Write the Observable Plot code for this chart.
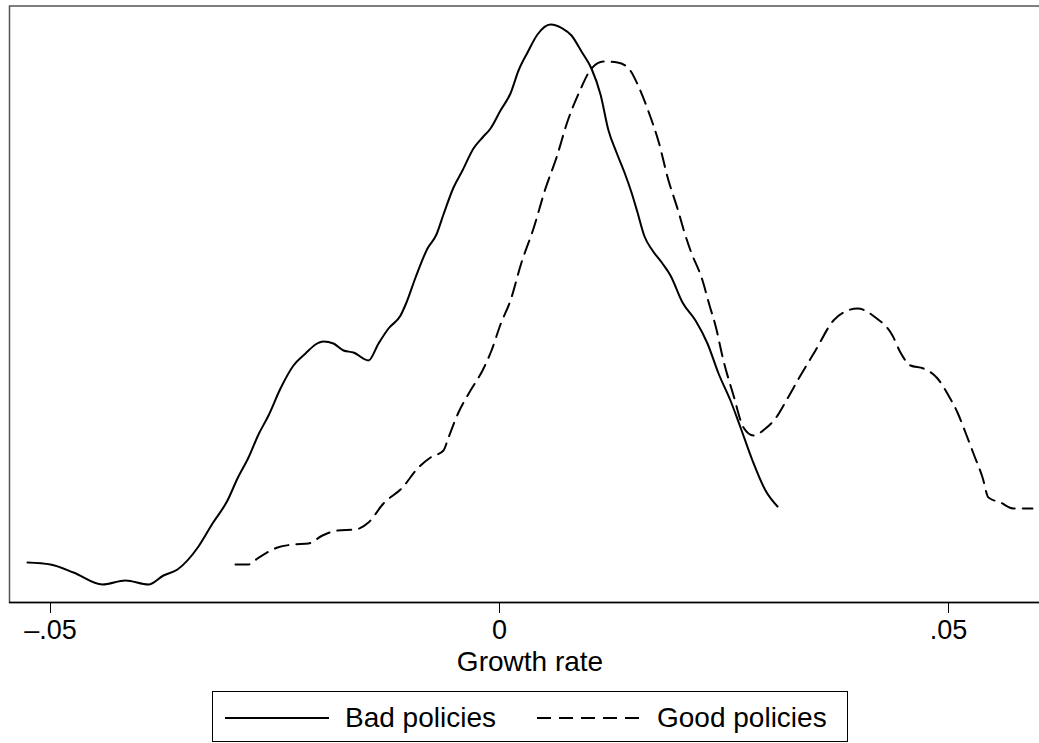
<!DOCTYPE html>
<html>
<head>
<meta charset="utf-8">
<script src="https://cdn.jsdelivr.net/npm/d3@7"></script>
<script src="https://cdn.jsdelivr.net/npm/@observablehq/plot@0.6"></script>
<style>
html,body{margin:0;padding:0;background:#fff;overflow:hidden;width:1039px;height:743px;}
#wrap{position:relative;width:1039px;height:743px;overflow:hidden;font-family:"Liberation Sans",Arial,Helvetica,sans-serif;}
#chart{position:absolute;left:0;top:0;width:1050px;}
#chart svg{max-width:none !important;}
#legend{position:absolute;left:212px;top:691px;}
</style>
</head>
<body>
<div id="wrap"><div id="chart"></div><div id="legend"></div></div>
<script>
// Kernel density of growth rate, "Bad policies" (solid)
const badX = [-0.05256,-0.05000,-0.04744,-0.04421,-0.04165,-0.03909,-0.03742,-0.03586,-0.03352,-0.03196,
  -0.03029,-0.02918,-0.02795,-0.02684,-0.02572,-0.02439,-0.02294,-0.02160,-0.02049,-0.01960,
  -0.01849,-0.01737,-0.01626,-0.01459,-0.01347,-0.01236,-0.01102,-0.01036,-0.00935,-0.00802,
  -0.00702,-0.00624,-0.00512,-0.00412,-0.00290,-0.00189,-0.00100,0.00011,0.00122,0.00212,
  0.00312,0.00423,0.00568,0.00702,0.00802,0.00913,0.01024,0.01125,0.01214,0.01303,
  0.01392,0.01470,0.01537,0.01615,0.01704,0.01815,0.01904,0.02038,0.02183,0.02316,
  0.02439,0.02572,0.02684,0.02817,0.02962,0.03096];
const badY = [2.00,1.90,1.50,0.90,1.10,0.90,1.35,1.65,2.80,3.95,
  5.10,6.20,7.25,8.40,9.35,10.70,11.85,12.45,12.90,13.05,
  12.95,12.60,12.50,12.10,12.95,13.70,14.35,15.00,16.25,17.70,
  18.40,19.40,20.75,21.60,22.70,23.25,23.70,24.60,25.45,26.60,
  27.50,28.40,28.90,28.70,28.35,27.55,26.70,25.40,23.60,22.50,
  21.50,20.50,19.50,18.30,17.60,16.95,16.35,15.00,14.10,12.95,
  11.45,10.10,8.75,7.10,5.60,4.80];

// "Good policies" (dashed)
const goodX = [-0.02940,-0.02795,-0.02695,-0.02472,-0.02294,-0.02127,-0.01971,-0.01804,-0.01604,-0.01459,
  -0.01292,-0.01080,-0.00913,-0.00768,-0.00624,-0.00568,-0.00457,-0.00323,-0.00189,-0.00089,
  0.00011,0.00122,0.00245,0.00379,0.00512,0.00635,0.00757,0.00891,0.01024,0.01158,
  0.01314,0.01448,0.01548,0.01659,0.01771,0.01882,0.01982,0.02060,0.02127,0.02261,
  0.02339,0.02405,0.02494,0.02606,0.02717,0.02829,0.02962,0.03073,0.03207,0.03352,
  0.03519,0.03719,0.03853,0.03987,0.04187,0.04376,0.04465,0.04577,0.04722,0.04878,
  0.05000,0.05100,0.05189,0.05278,0.05379,0.05445,0.05579,0.05724,0.05935];
const goodY = [1.90,1.90,2.20,2.75,2.90,2.95,3.35,3.60,3.65,4.00,
  4.95,5.75,6.70,7.25,7.60,8.25,9.50,10.60,11.60,12.60,
  13.90,15.10,17.00,18.70,20.70,22.25,24.05,25.55,26.70,27.05,
  27.00,26.65,25.80,24.55,23.05,21.10,19.70,18.50,17.60,16.10,
  14.85,13.85,12.10,10.35,8.75,8.35,8.70,9.20,10.20,11.35,
  12.60,14.10,14.55,14.70,14.25,13.35,12.50,11.85,11.70,11.20,
  10.35,9.50,8.50,7.45,6.25,5.25,5.00,4.70,4.70];

const seriesNames = ["Bad policies", "Good policies"];
const seriesDash = [null, "14,8"];
const tickValues = [-0.05, 0, 0.05];
const tickLabels = ["\u2013.05", "0", ".05"];
const xTitle = "Growth rate";

const bad = badX.map((x, i) => ({x, y: badY[i]}));
const good = goodX.map((x, i) => ({x, y: goodY[i]}));

const FONT = '"Liberation Sans", Arial, Helvetica, sans-serif';

const chart = Plot.plot({
  width: 1050,
  height: 680,
  marginLeft: 9,
  marginRight: 0,
  marginTop: 5.5,
  marginBottom: 78,
  style: {fontFamily: FONT, fontSize: "27px", color: "#000", background: "#fff", overflow: "visible", maxWidth: "none"},
  x: {domain: [-0.054566, 0.061359], axis: null},
  y: {domain: [0, 29.825], axis: null},
  marks: [
    Plot.frame({stroke: "#555", strokeWidth: 1.5}),
    Plot.axisX({ticks: tickValues, tickSize: 11, tickPadding: 6, tickFormat: (d) => tickLabels[tickValues.indexOf(d)], stroke: "#000", strokeWidth: 1, fontSize: 27, label: null}),
    Plot.ruleY([0], {stroke: "#000", strokeWidth: 1.5}),
    Plot.line(bad, {x: "x", y: "y", stroke: "#000", strokeWidth: 2, curve: "monotone-x"}),
    Plot.line(good, {x: "x", y: "y", stroke: "#000", strokeWidth: 2, strokeDasharray: seriesDash[1], curve: "monotone-x"}),
    Plot.text([xTitle], {frameAnchor: "bottom", dy: 68, lineAnchor: "bottom", fontSize: 28, fill: "#000"})
  ]
});
chart.style.maxWidth = "none";
chart.style.width = "1050px";
chart.style.height = "680px";
document.getElementById("chart").appendChild(chart);

// Legend
const lg = d3.select("#legend").append("svg").attr("width", 636).attr("height", 52)
  .style("font-family", FONT);
lg.append("rect").attr("x", 0.5).attr("y", 0.5).attr("width", 635).attr("height", 50)
  .attr("fill", "#fff").attr("stroke", "#000").attr("stroke-width", 1);
const itemX = [13, 325];
seriesNames.forEach((name, i) => {
  const l = lg.append("line").attr("x1", itemX[i]).attr("x2", itemX[i] + 104)
    .attr("y1", 27).attr("y2", 27).attr("stroke", "#000").attr("stroke-width", 2);
  if (seriesDash[i]) l.attr("stroke-dasharray", seriesDash[i]);
  lg.append("text").attr("x", itemX[i] + 120).attr("y", 36).attr("font-size", 28)
    .attr("fill", "#000").text(name);
});
</script>
</body>
</html>
